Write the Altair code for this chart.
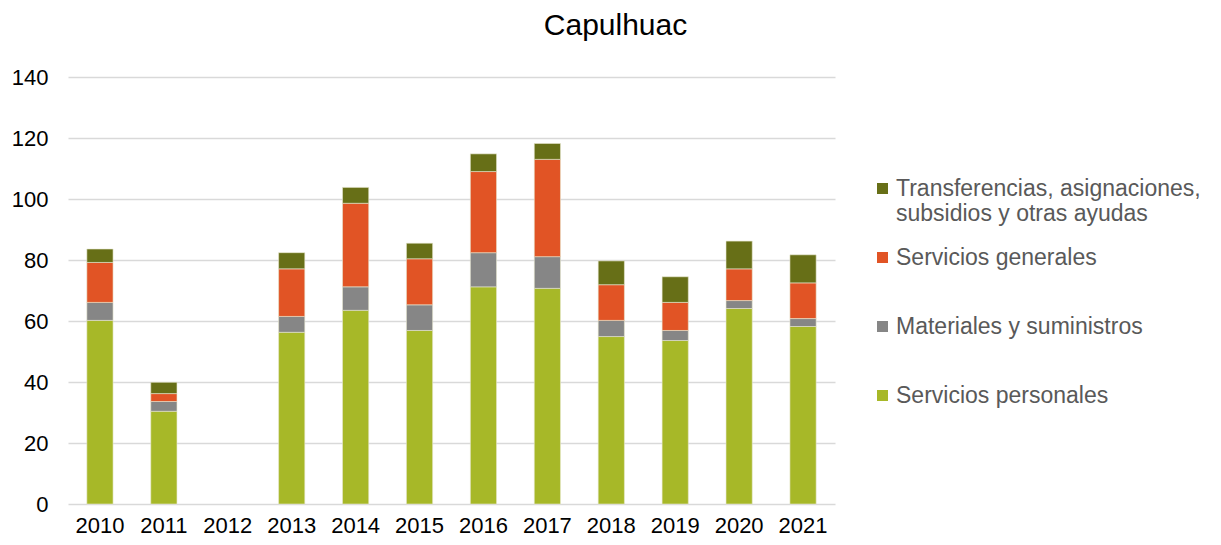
import altair as alt
import pandas as pd

years = ["2010", "2011", "2012", "2013", "2014", "2015", "2016", "2017", "2018", "2019", "2020", "2021"]
servicios_personales = [60.2, 30.4, 0, 56.3, 63.5, 56.9, 71.2, 70.7, 54.9, 53.6, 64.1, 58.2]
materiales = [5.9, 3.2, 0, 5.2, 7.7, 8.4, 11.2, 10.4, 5.3, 3.3, 2.6, 2.6]
servicios_generales = [13.1, 2.6, 0, 15.6, 27.4, 15.1, 26.6, 31.9, 11.7, 9.2, 10.4, 11.7]
transferencias = [4.4, 3.7, 0, 5.3, 5.2, 5.1, 5.8, 5.2, 7.8, 8.4, 9.1, 9.2]

series_names = [
    "Servicios personales",
    "Materiales y suministros",
    "Servicios generales",
    "Transferencias, asignaciones, subsidios y otras ayudas",
]
series_values = [servicios_personales, materiales, servicios_generales, transferencias]
colors = ["#A7B828", "#868686", "#E15425", "#676F17"]

rows = []
for si, (name, vals) in enumerate(zip(series_names, series_values)):
    for y, v in zip(years, vals):
        rows.append({"year": y, "serie": name, "value": v, "order": si})
df = pd.DataFrame(rows)

legend_domain = series_names[::-1]
legend_range = colors[::-1]

label_expr = (
    "datum.label == 'Transferencias, asignaciones, subsidios y otras ayudas' ? "
    "['Transferencias, asignaciones,', 'subsidios y otras ayudas'] : datum.label"
)

chart = alt.Chart(df).mark_bar(stroke="#E8E8D0", strokeWidth=0.6).encode(
    x=alt.X("year:N", sort=years, title=None,
            scale=alt.Scale(domain=years, paddingInner=0.59),
            axis=alt.Axis(labelAngle=0, labelFontSize=22, labelColor="#000000",
                          labelFont="Liberation Sans", ticks=False, domain=False,
                          labelBaseline="alphabetic", labelPadding=28)),
    y=alt.Y("value:Q", title=None, stack="zero",
            scale=alt.Scale(domain=[0, 140], nice=False),
            axis=alt.Axis(values=[0, 20, 40, 60, 80, 100, 120, 140], labelFontSize=22,
                          labelColor="#000000", labelFont="Liberation Sans",
                          ticks=False, domain=False, labelPadding=20,
                          gridColor="#D9D9D9", gridWidth=1.5)),
    color=alt.Color("serie:N", scale=alt.Scale(domain=legend_domain, range=legend_range),
                    legend=alt.Legend(title=None, orient="none", legendX=803, legendY=100,
                                      symbolType="square", symbolSize=121,
                                      symbolStrokeWidth=0, labelFontSize=23,
                                      labelColor="#595959", labelFont="Liberation Sans",
                                      labelOffset=2, rowPadding=20, gridAlign="all",
                                      labelLimit=400, labelExpr=label_expr, padding=0)),
    order=alt.Order("order:Q", sort="ascending"),
).transform_filter(
    "datum.value > 0"
).properties(
    width=767,
    height=427,
    title=alt.TitleParams("Capulhuac", fontSize=30, font="Liberation Sans",
                          fontWeight="normal", color="#000000", anchor="middle",
                          dx=164, offset=25),
    padding={"left": 60, "top": 69, "right": 378, "bottom": 33},
    autosize=alt.AutoSizeParams(type="none"),
).configure_view(stroke=None)

chart.save("out.html", embed_options={"renderer": "svg", "actions": False})
